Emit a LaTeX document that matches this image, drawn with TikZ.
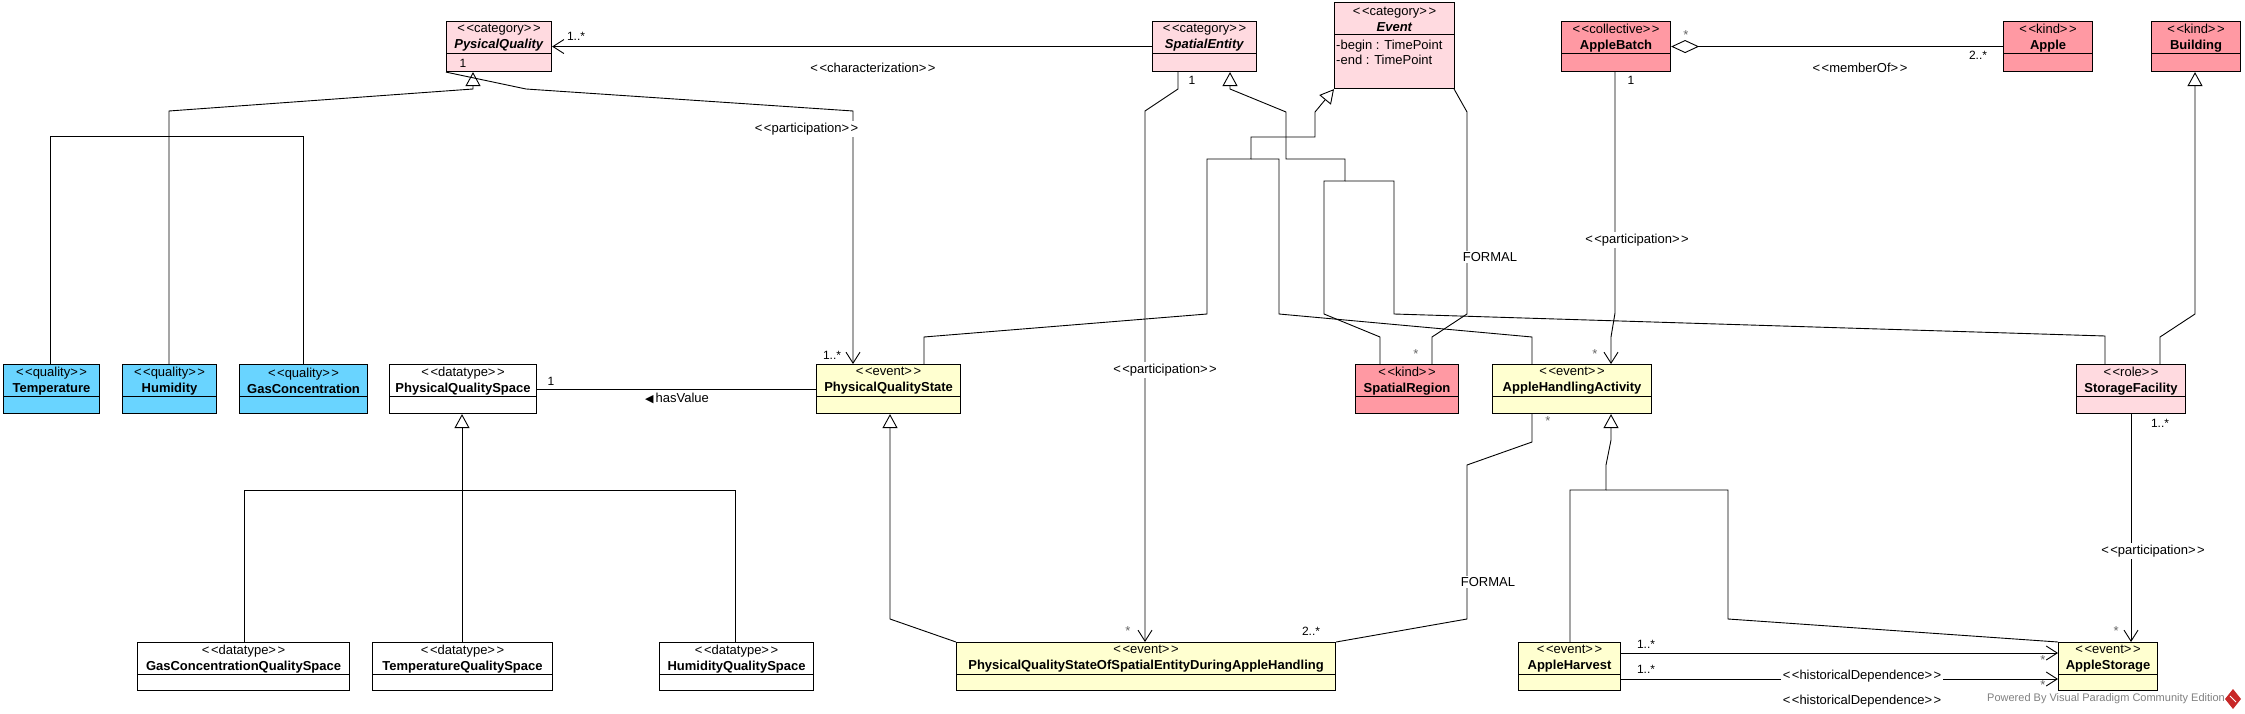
\documentclass[tikz,border=0pt]{standalone}
\usepackage{fontspec}
\setmainfont{Liberation Sans}
\newfontfamily\symfont{DejaVu Sans}
\usetikzlibrary{arrows.meta, positioning}
\definecolor{catpink}{RGB}{255,218,224}
\definecolor{kindred}{RGB}{255,153,163}
\definecolor{qualblue}{RGB}{105,212,255}
\definecolor{eventyel}{RGB}{255,255,208}
\definecolor{vpred}{RGB}{200,40,40}
\newcommand{\stereo}[1]{<\kern1.5pt<#1>\kern1.5pt>}

\begin{document}
\begin{tikzpicture}[x=1pt, y=-1pt,
  cls/.style={draw, line width=1.1pt, anchor=north west, inner sep=0pt, minimum height=50pt,
    path picture={\draw[line width=1.1pt] ([yshift=-32pt]path picture bounding box.north west) -- ([yshift=-32pt]path picture bounding box.north east);}},
  ctext/.style={align=center, font=\fontsize{13}{16}\selectfont, inner sep=0pt},
  attr/.style={align=left, anchor=north west, font=\fontsize{13}{15}\selectfont, inner sep=0pt},
  mult/.style={font=\fontsize{12}{14}\selectfont, inner sep=1pt},
  star/.style={font=\fontsize{13}{13}\selectfont, text=gray!80!black, inner sep=0pt, text height=9pt, text depth=-5pt},
  lbl/.style={font=\fontsize{13}{15}\selectfont, fill=white, inner sep=1.5pt},
  line/.style={line width=0.9pt},
  assoc/.style={line, -{Straight Barb[length=11pt, width=14pt]}},
  gen/.style={line, -{Triangle[open, length=14pt, width=15pt, fill=white]}},
  aggr/.style={line, {Diamond[open, length=28pt, width=13pt, fill=white]}-}
]
  \useasboundingbox (0,0) rectangle (2245,714);

  % Top row
  \node[cls, fill=catpink, minimum width=105pt] (pq) at (446,21) {};
  \node[ctext] (pq-t) at ([yshift=-17pt]pq.north) {\stereo{category}\\\textbf{\textit{PysicalQuality}}};
  \node[cls, fill=catpink, minimum width=104pt] (se) at (1152,21) {};
  \node[ctext] (se-t) at ([yshift=-17pt]se.north) {\stereo{category}\\\textbf{\textit{SpatialEntity}}};
  \node[cls, fill=catpink, minimum width=120pt, minimum height=86pt] (ev) at (1334,2) {};
  \node[ctext] (ev-t) at ([yshift=-17pt]ev.north) {\stereo{category}\\\textbf{\textit{Event}}};
  \node[attr] (ev-a) at ([xshift=2pt, yshift=-38pt]ev.north west) {-begin : TimePoint\\-end : TimePoint};
  \node[cls, fill=kindred, minimum width=109pt] (ab) at (1561,21) {};
  \node[ctext] (ab-t) at ([yshift=-17pt]ab.north) {\stereo{collective}\\\textbf{AppleBatch}};
  \node[cls, fill=kindred, minimum width=89pt] (apple) at (2003,21) {};
  \node[ctext] (apple-t) at ([yshift=-17pt]apple.north) {\stereo{kind}\\\textbf{Apple}};
  \node[cls, fill=kindred, minimum width=89pt] (bldg) at (2151,21) {};
  \node[ctext] (bldg-t) at ([yshift=-17pt]bldg.north) {\stereo{kind}\\\textbf{Building}};

  % Middle row
  \node[cls, fill=qualblue, minimum width=96pt, minimum height=49pt] (temp) at (3,364) {};
  \node[ctext] (temp-t) at ([yshift=-17pt]temp.north) {\stereo{quality}\\\textbf{Temperature}};
  \node[cls, fill=qualblue, minimum width=94pt, minimum height=49pt] (hum) at (122,364) {};
  \node[ctext] (hum-t) at ([yshift=-17pt]hum.north) {\stereo{quality}\\\textbf{Humidity}};
  \node[cls, fill=qualblue, minimum width=128pt, minimum height=49pt] (gas) at (239,364) {};
  \node[ctext] (gas-t) at ([yshift=-17pt]gas.north) {\stereo{quality}\\\textbf{GasConcentration}};
  \node[cls, fill=white, minimum width=147pt, minimum height=49pt] (pqsp) at (389,364) {};
  \node[ctext] (pqsp-t) at ([yshift=-17pt]pqsp.north) {\stereo{datatype}\\\textbf{PhysicalQualitySpace}};
  \node[cls, fill=eventyel, minimum width=144pt, minimum height=49pt] (pqst) at (816,364) {};
  \node[ctext] (pqst-t) at ([yshift=-17pt]pqst.north) {\stereo{event}\\\textbf{PhysicalQualityState}};
  \node[cls, fill=kindred, minimum width=103pt, minimum height=49pt] (sreg) at (1355,364) {};
  \node[ctext] (sreg-t) at ([yshift=-17pt]sreg.north) {\stereo{kind}\\\textbf{SpatialRegion}};
  \node[cls, fill=eventyel, minimum width=159pt, minimum height=49pt] (aha) at (1492,364) {};
  \node[ctext] (aha-t) at ([yshift=-17pt]aha.north) {\stereo{event}\\\textbf{AppleHandlingActivity}};
  \node[cls, fill=catpink, minimum width=109pt, minimum height=49pt] (sf) at (2076,364) {};
  \node[ctext] (sf-t) at ([yshift=-17pt]sf.north) {\stereo{role}\\\textbf{StorageFacility}};

  % Bottom row
  \node[cls, fill=white, minimum width=212pt, minimum height=48pt] (gcqs) at (137,642) {};
  \node[ctext] (gcqs-t) at ([yshift=-17pt]gcqs.north) {\stereo{datatype}\\\textbf{GasConcentrationQualitySpace}};
  \node[cls, fill=white, minimum width=180pt, minimum height=48pt] (tqs) at (372,642) {};
  \node[ctext] (tqs-t) at ([yshift=-17pt]tqs.north) {\stereo{datatype}\\\textbf{TemperatureQualitySpace}};
  \node[cls, fill=white, minimum width=154pt, minimum height=48pt] (hqs) at (659,642) {};
  \node[ctext] (hqs-t) at ([yshift=-17pt]hqs.north) {\stereo{datatype}\\\textbf{HumidityQualitySpace}};
  \node[cls, fill=eventyel, minimum width=379pt, minimum height=48pt] (pqsos) at (956,642) {};
  \node[ctext] (pqsos-t) at ([yshift=-17pt]pqsos.north) {\stereo{event}\\\textbf{PhysicalQualityStateOfSpatialEntityDuringAppleHandling}};
  \node[cls, fill=eventyel, minimum width=102pt, minimum height=48pt] (harv) at (1518,642) {};
  \node[ctext] (harv-t) at ([yshift=-17pt]harv.north) {\stereo{event}\\\textbf{AppleHarvest}};
  \node[cls, fill=eventyel, minimum width=99pt, minimum height=48pt] (stor) at (2058,642) {};
  \node[ctext] (stor-t) at ([yshift=-17pt]stor.north) {\stereo{event}\\\textbf{AppleStorage}};

  % Characterization
  \draw[assoc] (se.west) -- (pq.east);
  \node[mult] (m-char) at (576,36) {1..*};
  \node[lbl] (l-char) at (873,68) {\stereo{characterization}};

  % Quality generalization
  \draw[gen] ([xshift=47pt]hum.north west) -- (169,111) -- (473,89) -- ([xshift=27pt]pq.south west);
  \draw[line] ([xshift=47pt]temp.north west) -- (50,136) -- (303,136) -- ([xshift=64pt]gas.north west);

  % Participation of the quality
  \draw[assoc] (pq.south west) -- (526,89) -- (853,111) -- ([xshift=37pt]pqst.north west);
  \node[mult] (m-pq) at (463,63) {1};
  \node[mult] (m-pqst) at (832,355) {1..*};
  \node[lbl, anchor=east] (l-pq) at (860,129) {\stereo{participation}};

  % hasValue
  \draw[line] (pqst.west) -- (pqsp.east);
  \node[mult] (m-hv) at (551,381) {1};
  \node[font=\fontsize{13}{15}\selectfont, inner sep=0pt] (l-hv) at (677,398) {{\symfont\fontsize{11}{11}\selectfont ◀}\,hasValue};

  % Quality space generalization
  \draw[gen] ([xshift=90pt]tqs.north west) -- ([xshift=73pt]pqsp.south west);
  \draw[line] ([xshift=107pt]gcqs.north west) -- (244,490) -- (735,490) -- ([xshift=76pt]hqs.north west);

  % State generalization
  \draw[gen] (pqsos.north west) -- (890,619) -- ([xshift=74pt]pqst.south west);

  % Participation of the spatial entity
  \draw[assoc] ([xshift=26pt]se.south west) -- (1178,89) -- (1145,111) -- ([xshift=189pt]pqsos.north west);
  \node[mult] (m-se) at (1192,80) {1};
  \node[lbl] (l-se) at (1165,370) {\stereo{participation}};
  \node[star] (s-pqsos) at (1128,631) {*};

  % Spatial entity generalization
  \draw[gen] ([xshift=25pt]sreg.north west) -- (1380,337) -- (1324,314) -- (1324,181) -- (1345,181) -- (1345,159) -- (1286,159) -- (1286,112) -- (1230,89) -- ([xshift=78pt]se.south west);
  \draw[line] (1345,181) -- (1394,181) -- (1394,314) -- (2105,336) -- ([xshift=29pt]sf.north west);

  % Event generalization
  \draw[gen] ([xshift=108pt]pqst.north west) -- (924,337) -- (1207,314) -- (1207,159) -- (1251,159) -- (1251,137) -- (1315,137) -- (1315,112) -- (ev.south west);
  \draw[line] (1251,159) -- (1279,159) -- (1279,314) -- (1532,337) -- ([xshift=40pt]aha.north west);

  % Formal relation event - region
  \draw[line] ([xshift=-1pt]ev.south east) -- (1467,112) -- (1467,314) -- (1432,337) -- ([xshift=77pt]sreg.north west);
  \node[lbl] (l-f1) at (1490,257) {FORMAL};
  \node[star] (s-sreg) at (1416,354) {*};

  % Formal relation activity - state
  \draw[line] ([xshift=40pt]aha.south west) -- (1532,442) -- (1467,465) -- (1467,619) -- (pqsos.north east);
  \node[lbl] (l-f2) at (1488,582) {FORMAL};
  \node[star] (s-aha) at (1548,421) {*};
  \node[mult] (m-pqsos) at (1311,631) {2..*};

  % memberOf
  \draw[aggr] (ab.east) -- (apple.west);
  \node[star] (s-ab) at (1686,35) {*};
  \node[mult] (m-apple) at (1978,55) {2..*};
  \node[lbl] (l-mem) at (1860,68) {\stereo{memberOf}};

  % Participation of the batch
  \draw[assoc] ([xshift=54pt]ab.south west) -- (1615,313) -- (1611,337) -- ([xshift=119pt]aha.north west);
  \node[mult] (m-ab) at (1631,80) {1};
  \node[lbl] (l-ab) at (1637,240) {\stereo{participation}};
  \node[star] (s-aha2) at (1595,354) {*};

  % Building generalization
  \draw[gen] ([xshift=84pt]sf.north west) -- (2160,337) -- (2195,314) -- ([xshift=44pt]bldg.south west);

  % Activity generalization
  \draw[gen] ([xshift=52pt]harv.north west) -- (1570,490) -- (1606,490) -- (1606,465) -- (1611,440) -- ([xshift=119pt]aha.south west);
  \draw[line] (1606,490) -- (1728,490) -- (1728,619) -- (stor.north west);

  % Participation of the facility
  \draw[assoc] ([xshift=55pt]sf.south west) -- ([xshift=73pt]stor.north west);
  \node[mult] (m-sf) at (2160,423) {1..*};
  \node[lbl] (l-sf) at (2153,551) {\stereo{participation}};
  \node[star] (s-stor) at (2116,631) {*};

  % Historical dependence
  \draw[assoc] ([yshift=-11pt]harv.north east) -- ([yshift=-11pt]stor.north west);
  \draw[assoc] ([yshift=-37pt]harv.north east) -- ([yshift=-37pt]stor.north west);
  \node[mult] (m-h1) at (1646,644) {1..*};
  \node[mult] (m-h2) at (1646,669) {1..*};
  \node[star] (s-h1) at (2043,660) {*};
  \node[star] (s-h2) at (2043,685) {*};
  \node[lbl] (l-h1) at (1862,676) {\stereo{historicalDependence}};
  \node[lbl] (l-h2) at (1862,701) {\stereo{historicalDependence}};

  % Watermark
  \node[font=\fontsize{11}{13}\selectfont, text=gray, inner sep=0pt] (wm) at (2106,699) {Powered By Visual Paradigm Community Edition};
  \fill[vpred] (2233,689) -- (2241,699) -- (2233,709) -- (2225,699) -- cycle;
  \draw[white, line width=1pt] (2230,696) -- (2236,702);
\end{tikzpicture}
\end{document}
